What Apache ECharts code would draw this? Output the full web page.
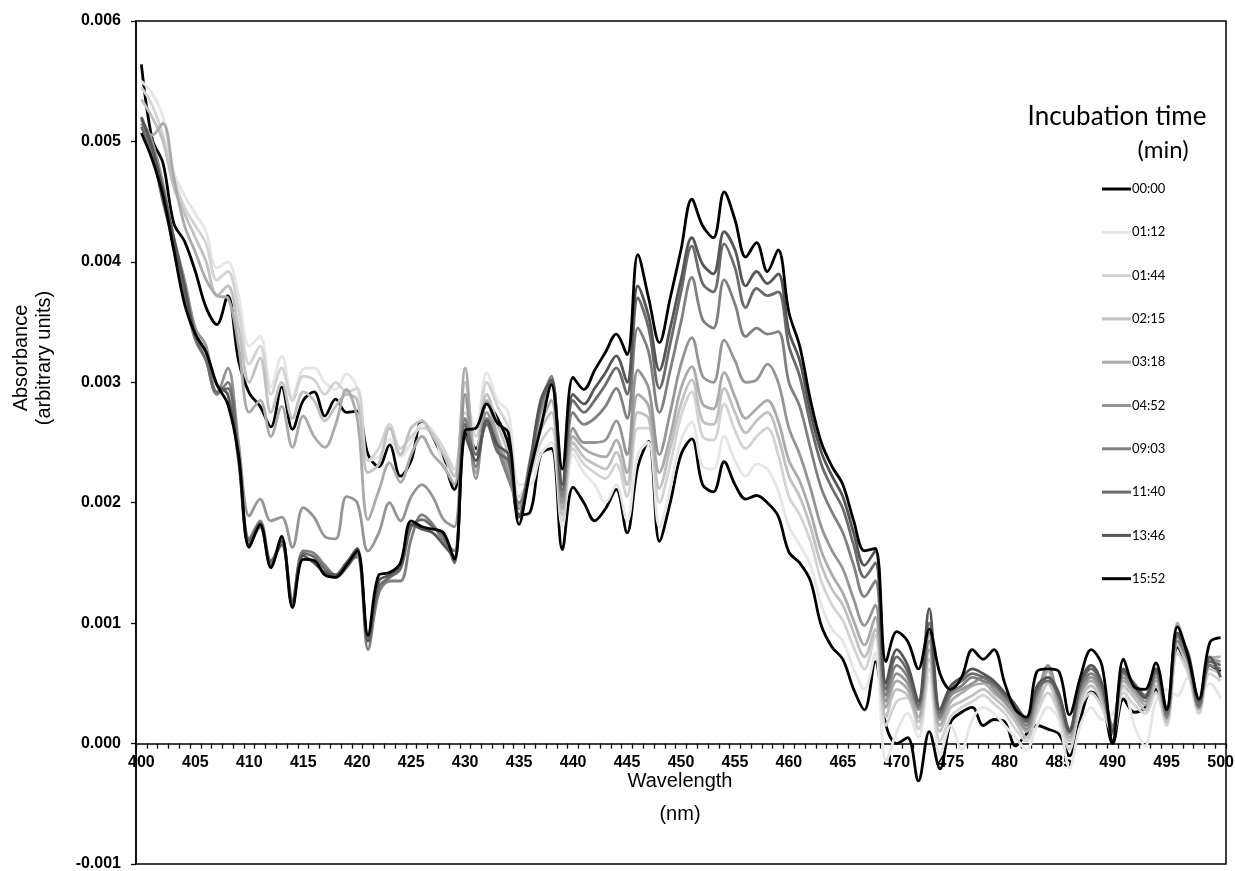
<!DOCTYPE html>
<html>
<head>
<meta charset="utf-8">
<script src="https://cdn.jsdelivr.net/npm/echarts/dist/echarts.min.js"></script>
<style>
html,body{margin:0;padding:0;background:#fff;}
#chart{width:1235px;height:871px;}
</style>
</head>
<body>
<div id="chart"></div>
<script>
const wavelengths = ['400','401','402','403','404','405','406','407','408','409','410','411','412','413','414','415','416','417','418','419','420','421','422','423','424','425','426','427','428','429','430','431','432','433','434','435','436','437','438','439','440','441','442','443','444','445','446','447','448','449','450','451','452','453','454','455','456','457','458','459','460','461','462','463','464','465','466','467','468','469','470','471','472','473','474','475','476','477','478','479','480','481','482','483','484','485','486','487','488','489','490','491','492','493','494','495','496','497','498','499','500'];

const seriesNames = ['00:00','01:12','01:44','02:15','03:18','04:52','09:03','11:40','13:46','15:52'];
const seriesColors = ['#000000','#e6e6e6','#d3d3d3','#c0c0c0','#aaaaaa','#959595','#808080','#6b6b6b','#555555','#000000'];

const yTicks = [-0.001, 0.000, 0.001, 0.002, 0.003, 0.004, 0.005, 0.006];

const t0000 = [0.00564,0.00502,0.00482,0.00432,0.00417,0.00392,0.00362,0.00348,0.00372,0.00318,
0.00291,0.00280,0.00263,0.00296,0.00261,0.00285,0.00292,0.00272,0.00286,0.00275,
0.00276,0.00240,0.00230,0.00248,0.00222,0.00235,0.00268,0.00255,0.00235,0.00211,
0.00258,0.00245,0.00282,0.00270,0.00248,0.00190,0.00192,0.00240,0.00245,0.00161,
0.00213,0.00200,0.00185,0.00195,0.00211,0.00175,0.00230,0.00251,0.00168,0.00200,
0.00240,0.00253,0.00215,0.00209,0.00234,0.00215,0.00203,0.00206,0.00200,0.00189,
0.00159,0.00150,0.00135,0.00098,0.00080,0.00070,0.00045,0.00028,0.00068,0.00015,
0.00000,0.00005,-0.00031,0.00010,-0.00021,0.00018,0.00026,0.00030,0.00015,0.00020,
0.00018,-0.00002,0.00008,0.00015,0.00012,0.00008,-0.00010,0.00020,0.00043,0.00035,
0.00000,0.00037,0.00026,0.00030,0.00045,0.00020,0.00080,0.00060,0.00030,0.00065,0.00060];

const t0112 = [0.00550,0.00540,0.00520,0.00475,0.00455,0.00440,0.00425,0.00395,0.00400,0.00372,
0.00330,0.00338,0.00296,0.00322,0.00288,0.00311,0.00312,0.00300,0.00294,0.00307,
0.00295,0.00235,0.00238,0.00253,0.00238,0.00250,0.00265,0.00260,0.00232,0.00222,
0.00285,0.00262,0.00308,0.00285,0.00275,0.00215,0.00215,0.00240,0.00250,0.00180,
0.00240,0.00225,0.00215,0.00200,0.00215,0.00185,0.00240,0.00250,0.00180,0.00212,
0.00252,0.00267,0.00230,0.00228,0.00255,0.00235,0.00222,0.00232,0.00228,0.00210,
0.00180,0.00165,0.00148,0.00115,0.00095,0.00085,0.00062,0.00045,0.00075,-0.00015,
0.00010,0.00025,0.00005,0.00055,-0.00010,0.00015,-0.00005,0.00020,0.00030,0.00025,
0.00015,0.00005,-0.00005,0.00015,0.00030,0.00020,-0.00020,0.00015,0.00030,0.00020,
0.00025,0.00045,0.00015,-0.00002,0.00035,0.00045,0.00040,0.00055,0.00040,0.00050,0.00037];

const t0144 = [0.00545,0.00530,0.00505,0.00470,0.00445,0.00430,0.00415,0.00385,0.00392,0.00360,
0.00315,0.00330,0.00290,0.00312,0.00285,0.00305,0.00302,0.00290,0.00300,0.00292,
0.00295,0.00235,0.00245,0.00265,0.00245,0.00255,0.00262,0.00258,0.00245,0.00228,
0.00275,0.00255,0.00300,0.00280,0.00262,0.00205,0.00222,0.00250,0.00262,0.00185,
0.00245,0.00232,0.00225,0.00220,0.00232,0.00205,0.00262,0.00262,0.00200,0.00232,
0.00272,0.00292,0.00255,0.00252,0.00282,0.00260,0.00245,0.00255,0.00262,0.00240,
0.00205,0.00190,0.00168,0.00135,0.00115,0.00102,0.00080,0.00062,0.00090,0.00015,
0.00035,0.00038,0.00012,0.00062,0.00002,0.00022,0.00030,0.00035,0.00040,0.00033,
0.00025,0.00012,0.00002,0.00025,0.00042,0.00025,-0.00005,0.00030,0.00042,0.00030,
0.00008,0.00042,0.00032,0.00025,0.00042,0.00015,0.00075,0.00058,0.00025,0.00058,0.00052];

const t0215 = [0.00535,0.00520,0.00500,0.00462,0.00440,0.00420,0.00400,0.00372,0.00380,0.00345,
0.00300,0.00320,0.00275,0.00300,0.00270,0.00292,0.00285,0.00268,0.00280,0.00290,
0.00285,0.00225,0.00232,0.00262,0.00240,0.00262,0.00268,0.00255,0.00240,0.00222,
0.00300,0.00240,0.00290,0.00265,0.00240,0.00200,0.00225,0.00260,0.00275,0.00190,
0.00250,0.00238,0.00232,0.00228,0.00242,0.00215,0.00275,0.00270,0.00212,0.00245,
0.00282,0.00302,0.00268,0.00265,0.00295,0.00275,0.00258,0.00268,0.00275,0.00255,
0.00222,0.00205,0.00180,0.00148,0.00128,0.00115,0.00092,0.00072,0.00095,0.00022,
0.00045,0.00040,0.00018,0.00070,0.00010,0.00030,0.00035,0.00040,0.00045,0.00038,
0.00030,0.00018,0.00005,0.00030,0.00050,0.00028,0.00002,0.00035,0.00048,0.00035,
0.00012,0.00048,0.00038,0.00028,0.00048,0.00018,0.00082,0.00062,0.00028,0.00062,0.00058];

const t0318 = [0.00520,0.00505,0.00515,0.00470,0.00430,0.00408,0.00385,0.00372,0.00370,0.00330,
0.00275,0.00285,0.00255,0.00280,0.00246,0.00272,0.00255,0.00246,0.00265,0.00294,
0.00270,0.00186,0.00210,0.00233,0.00217,0.00240,0.00255,0.00240,0.00230,0.00215,
0.00312,0.00225,0.00285,0.00255,0.00230,0.00198,0.00230,0.00265,0.00285,0.00195,
0.00255,0.00245,0.00240,0.00238,0.00252,0.00225,0.00290,0.00280,0.00225,0.00255,
0.00295,0.00313,0.00282,0.00278,0.00308,0.00288,0.00270,0.00278,0.00285,0.00268,
0.00235,0.00218,0.00192,0.00160,0.00140,0.00125,0.00102,0.00082,0.00105,0.00030,
0.00052,0.00045,0.00022,0.00078,0.00015,0.00035,0.00042,0.00048,0.00050,0.00042,
0.00034,0.00022,0.00010,0.00035,0.00060,0.00032,0.00005,0.00040,0.00052,0.00040,
0.00012,0.00052,0.00042,0.00032,0.00052,0.00022,0.00100,0.00070,0.00032,0.00070,0.00072];

const t0452 = [0.00518,0.00500,0.00465,0.00420,0.00385,0.00345,0.00330,0.00290,0.00312,0.00250,
0.00189,0.00203,0.00185,0.00188,0.00163,0.00196,0.00188,0.00172,0.00170,0.00205,
0.00200,0.00160,0.00175,0.00200,0.00185,0.00205,0.00215,0.00205,0.00186,0.00180,
0.00290,0.00220,0.00275,0.00250,0.00225,0.00195,0.00235,0.00275,0.00300,0.00200,
0.00262,0.00250,0.00250,0.00252,0.00268,0.00240,0.00310,0.00295,0.00240,0.00275,
0.00315,0.00337,0.00305,0.00300,0.00335,0.00318,0.00300,0.00302,0.00315,0.00300,
0.00262,0.00240,0.00212,0.00180,0.00160,0.00145,0.00120,0.00098,0.00115,0.00035,
0.00058,0.00050,0.00028,0.00085,0.00020,0.00040,0.00045,0.00050,0.00055,0.00045,
0.00035,0.00025,0.00012,0.00040,0.00065,0.00035,0.00008,0.00042,0.00055,0.00042,
0.00008,0.00055,0.00045,0.00035,0.00055,0.00025,0.00088,0.00070,0.00035,0.00070,0.00068];

const t0903 = [0.00515,0.00495,0.00455,0.00410,0.00370,0.00335,0.00318,0.00290,0.00300,0.00240,
0.00170,0.00185,0.00150,0.00170,0.00120,0.00160,0.00158,0.00148,0.00140,0.00150,
0.00155,0.00078,0.00125,0.00135,0.00135,0.00170,0.00190,0.00182,0.00168,0.00160,
0.00270,0.00230,0.00270,0.00245,0.00220,0.00200,0.00230,0.00280,0.00305,0.00205,
0.00275,0.00265,0.00270,0.00280,0.00295,0.00270,0.00345,0.00325,0.00275,0.00310,
0.00350,0.00387,0.00352,0.00345,0.00385,0.00365,0.00338,0.00345,0.00340,0.00342,
0.00300,0.00280,0.00245,0.00212,0.00192,0.00175,0.00148,0.00122,0.00135,0.00040,
0.00065,0.00055,0.00030,0.00092,0.00022,0.00042,0.00048,0.00055,0.00052,0.00048,
0.00038,0.00028,0.00015,0.00042,0.00055,0.00038,0.00010,0.00045,0.00058,0.00045,
0.00015,0.00058,0.00048,0.00038,0.00058,0.00022,0.00085,0.00068,0.00030,0.00065,0.00062];

const t1140 = [0.00512,0.00490,0.00450,0.00415,0.00372,0.00338,0.00318,0.00292,0.00295,0.00238,
0.00168,0.00183,0.00152,0.00165,0.00118,0.00158,0.00155,0.00145,0.00138,0.00146,
0.00158,0.00088,0.00130,0.00138,0.00145,0.00180,0.00186,0.00180,0.00172,0.00150,
0.00265,0.00240,0.00265,0.00242,0.00235,0.00190,0.00228,0.00282,0.00300,0.00210,
0.00285,0.00275,0.00285,0.00298,0.00312,0.00290,0.00370,0.00345,0.00295,0.00332,
0.00375,0.00413,0.00382,0.00375,0.00415,0.00395,0.00362,0.00378,0.00372,0.00375,
0.00330,0.00305,0.00265,0.00232,0.00212,0.00195,0.00165,0.00138,0.00150,0.00045,
0.00072,0.00060,0.00032,0.00100,0.00025,0.00045,0.00052,0.00058,0.00055,0.00050,
0.00040,0.00030,0.00018,0.00045,0.00052,0.00040,0.00012,0.00048,0.00062,0.00048,
0.00012,0.00060,0.00050,0.00040,0.00060,0.00025,0.00090,0.00072,0.00032,0.00068,0.00065];

const t1346 = [0.00520,0.00495,0.00460,0.00420,0.00380,0.00340,0.00325,0.00298,0.00290,0.00235,
0.00165,0.00180,0.00148,0.00168,0.00115,0.00156,0.00150,0.00142,0.00140,0.00150,
0.00162,0.00085,0.00135,0.00140,0.00148,0.00182,0.00178,0.00175,0.00165,0.00155,
0.00255,0.00235,0.00268,0.00248,0.00240,0.00188,0.00232,0.00285,0.00302,0.00215,
0.00290,0.00282,0.00295,0.00308,0.00322,0.00300,0.00380,0.00355,0.00310,0.00345,
0.00385,0.00420,0.00398,0.00390,0.00425,0.00410,0.00380,0.00392,0.00382,0.00390,
0.00342,0.00318,0.00275,0.00242,0.00222,0.00205,0.00175,0.00148,0.00160,0.00050,
0.00078,0.00065,0.00035,0.00112,0.00028,0.00048,0.00055,0.00062,0.00058,0.00052,
0.00042,0.00032,0.00020,0.00048,0.00055,0.00042,0.00010,0.00050,0.00065,0.00050,
0.00010,0.00062,0.00048,0.00038,0.00062,0.00028,0.00092,0.00075,0.00035,0.00072,0.00055];

const t1552 = [0.00507,0.00485,0.00455,0.00410,0.00365,0.00340,0.00325,0.00298,0.00282,0.00240,
0.00163,0.00182,0.00146,0.00172,0.00113,0.00153,0.00152,0.00140,0.00138,0.00148,
0.00160,0.00090,0.00140,0.00142,0.00150,0.00185,0.00180,0.00178,0.00175,0.00153,
0.00260,0.00262,0.00282,0.00266,0.00258,0.00182,0.00225,0.00262,0.00298,0.00228,
0.00304,0.00294,0.00310,0.00325,0.00340,0.00323,0.00406,0.00370,0.00333,0.00370,
0.00410,0.00452,0.00430,0.00420,0.00458,0.00435,0.00404,0.00416,0.00392,0.00410,
0.00358,0.00330,0.00285,0.00250,0.00230,0.00215,0.00185,0.00160,0.00162,0.00068,
0.00093,0.00085,0.00062,0.00095,0.00058,0.00045,0.00055,0.00078,0.00070,0.00078,
0.00050,0.00028,0.00022,0.00060,0.00062,0.00060,0.00024,0.00055,0.00078,0.00065,
0.00002,0.00070,0.00047,0.00045,0.00067,0.00028,0.00097,0.00072,0.00037,0.00084,0.00088];

const seriesValues = [t0000,t0112,t0144,t0215,t0318,t0452,t0903,t1140,t1346,t1552];

const chart = echarts.init(document.getElementById('chart'), null, {renderer:'canvas'});
const black = '#000';
const gridTop = 21, gridBottom = 7, chartH = 871;
const plotH = chartH - gridTop - gridBottom;
// x axis sits on the zero line: distance from bottom edge of plot to y=0
const zeroOffset = plotH * (0 - yTicks[0]) / (yTicks[yTicks.length-1] - yTicks[0]);
chart.setOption({
  animation: false,
  backgroundColor: '#fff',
  grid: {left:136, right:9, top:gridTop, bottom:gridBottom, show:true, borderColor:black, borderWidth:1.5,
    containLabel:false, outerBoundsMode:'none'},
  xAxis: {
    type:'category', data: wavelengths, boundaryGap:true, position:'bottom', offset: -zeroOffset,
    axisLine:{show:true, onZero:false, lineStyle:{color:black, width:1.5}},
    axisTick:{show:true, interval:0, length:5, lineStyle:{color:black, width:1.3}},
    axisLabel:{interval:4, color:black, fontWeight:'bold', fontSize:16, fontFamily:'Liberation Sans', margin:11},
    splitLine:{show:false}
  },
  yAxis: {
    type:'value', min:yTicks[0], max:yTicks[yTicks.length-1], interval:0.001,
    axisLine:{show:true, lineStyle:{color:black, width:1.5}},
    axisTick:{show:true, length:5, lineStyle:{color:black, width:1.3}},
    axisLabel:{color:black, fontWeight:'bold', fontSize:16, fontFamily:'Liberation Sans', margin:15,
      formatter: v => (Math.abs(v) < 1e-9 ? 0 : v).toFixed(3)},
    splitLine:{show:false}
  },
  legend: {
    orient:'vertical', left:1097, top:177, itemWidth:29, itemHeight:3, itemGap:29.3,
    icon:'rect', data: seriesNames,
    textStyle:{color:black, fontSize:13, fontFamily:'Lato', lineHeight:14, padding:[0,0,0,-4]}
  },
  graphic: [
    {type:'text', x:33, y:358, rotation:Math.PI/2,
      style:{text:'Absorbance\n(arbitrary units)', fontSize:20, fontFamily:'Liberation Sans', fill:black, align:'center', verticalAlign:'middle', lineHeight:23}},
    {type:'text', x:680, y:798,
      style:{text:'Wavelength\n(nm)', fontSize:20, fontFamily:'Liberation Sans', fill:black, align:'center', verticalAlign:'middle', lineHeight:33}},
    {type:'text', x:1117, y:117,
      style:{text:'Incubation time', fontSize:26, fontFamily:'Lato', fill:black, align:'center', verticalAlign:'middle'}},
    {type:'text', x:1163, y:150,
      style:{text:'(min)', fontSize:24, fontFamily:'Lato', fill:black, align:'center', verticalAlign:'middle'}}
  ],
  series: seriesNames.map((name, i) => ({
    name: name, type:'line', data: seriesValues[i], smooth:0.35, symbol:'none',
    color: seriesColors[i],
    lineStyle:{color: seriesColors[i], width:2.8},
    itemStyle:{color: seriesColors[i]},
    z: 2 + i
  }))
});
</script>
</body>
</html>
